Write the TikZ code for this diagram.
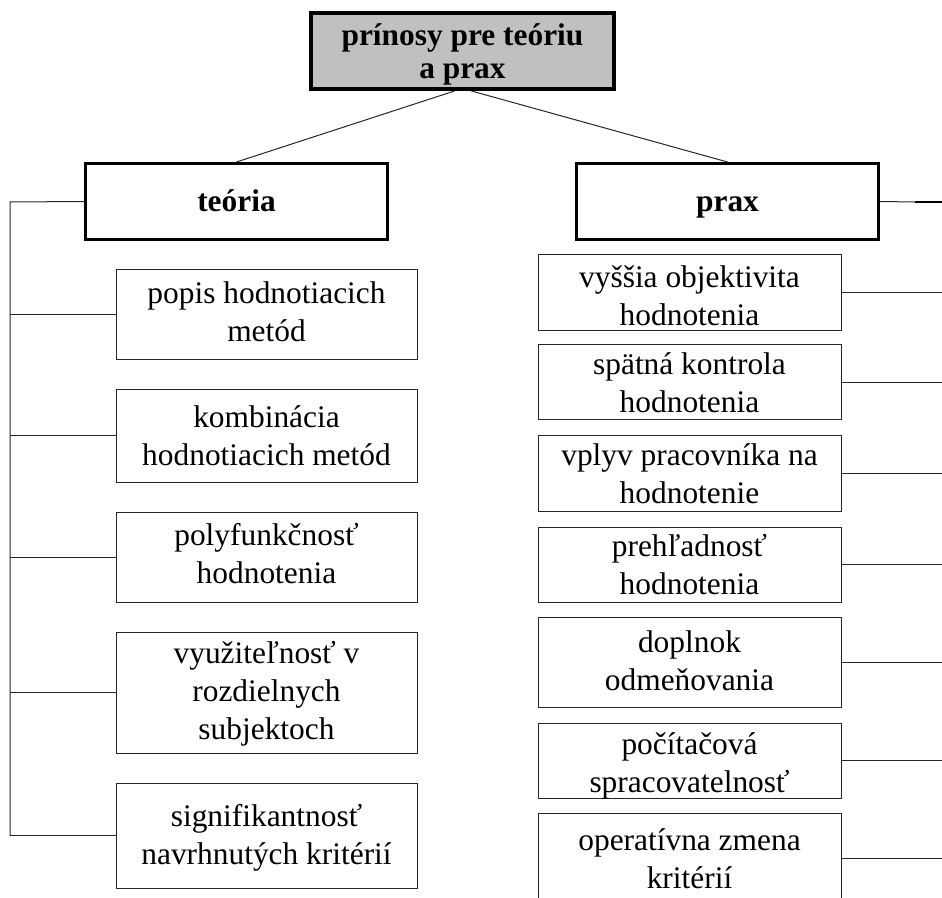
\documentclass[tikz,border=0pt]{standalone}
\usepackage{fontspec}
\setmainfont{Liberation Serif}
\begin{document}
\begin{tikzpicture}[x=0.5pt,y=-0.5pt,
  box/.style 2 args={draw=black!85, line width=0.5pt, minimum width=#1*0.5pt, minimum height=#2*0.5pt, inner sep=0pt},
  lab/.style={font=\fontsize{15.7}{19}\selectfont, align=center, inner sep=0pt, anchor=north},
  head/.style={font=\fontsize{15.7}{19}\selectfont\bfseries, align=center, inner sep=0pt, draw=black, line width=1.5pt, minimum width=151pt, minimum height=38pt, text height=13pt, text depth=2.5pt},
  conn/.style={draw=black!85, line width=0.5pt}
]
\useasboundingbox (0,0) rectangle (942,898);
\clip (0,0) rectangle (942,898);

% top
\node[draw=black, line width=2pt, fill={rgb,255:red,192;green,192;blue,192}, minimum width=151.5pt, minimum height=38pt, inner sep=0pt] (top) at (462.5,51) {};
\node[lab, font=\fontsize{15.7}{16.5}\selectfont\bfseries] (topt) at (462.5,21.9) {\strut prínosy pre teóriu\\\strut a prax};

% heads
\node[head] (teo) at (236.5,201.5) {teória};
\node[head] (prx) at (727.5,201.5) {prax};

\draw[conn] ([xshift=-4pt]top.south) -- (teo.north);
\draw[conn] ([xshift=4.5pt]top.south) -- (prx.north);

% left items
\node[box={301}{90}]  (l1) at (266.5,315) {};
\node[box={301}{92}]  (l2) at (266.5,436) {};
\node[box={301}{90}]  (l3) at (266.5,557) {};
\node[box={301}{121}] (l4) at (266.5,692.5) {};
\node[box={301}{105}] (l5) at (266.5,835.5) {};
\node[lab] (l1t) at (266.5,276.4) {\strut popis hodnotiacich\\\strut metód};
\node[lab] (l2t) at (266.5,400.4) {\strut kombinácia\\\strut hodnotiacich metód};
\node[lab] (l3t) at (266.5,518.4) {\strut polyfunkčnosť\\\strut hodnotenia};
\node[lab] (l4t) at (266.5,636.4) {\strut využiteľnosť v\\\strut rozdielnych\\\strut subjektoch};
\node[lab] (l5t) at (266.5,799.4) {\strut signifikantnosť\\\strut navrhnutých kritérií};

% right items
\node[box={303}{76}] (r1) at (689.5,293) {};
\node[box={303}{75}] (r2) at (689.5,382.5) {};
\node[box={303}{75}] (r3) at (689.5,473.5) {};
\node[box={303}{75}] (r4) at (689.5,564.5) {};
\node[box={303}{90}] (r5) at (689.5,662) {};
\node[box={303}{75}] (r6) at (689.5,760.5) {};
\node[box={303}{90}] (r7) at (689.5,858) {};
\node[lab] (r1t) at (689.5,260.4) {\strut vyššia objektivita\\\strut hodnotenia};
\node[lab] (r2t) at (689.5,347.4) {\strut spätná kontrola\\\strut hodnotenia};
\node[lab] (r3t) at (689.5,438.4) {\strut vplyv pracovníka na\\\strut hodnotenie};
\node[lab] (r4t) at (689.5,529.4) {\strut prehľadnosť\\\strut hodnotenia};
\node[lab] (r5t) at (689.5,625.4) {\strut doplnok\\\strut odmeňovania};
\node[lab] (r6t) at (689.5,727.4) {\strut počítačová\\\strut spracovatelnosť};
\node[lab] (r7t) at (689.5,823.4) {\strut operatívna zmena\\\strut kritérií};

% left bracket
\coordinate (lt) at (10,202);
\coordinate (lb) at (10,836);
\draw[conn] (teo.west) -- (lt) -- (lb);
\foreach \n in {l1,l2,l3,l4,l5} {
  \draw[conn] (\n.west) -- (\n.west -| lt);
}

% right side
\coordinate (re) at (942,0);
\coordinate (pm) at (915,202);
\draw[conn] (prx.east) -- (pm);
\draw[black, line width=1pt] (pm) -- (pm -| re);
\foreach \n in {r1,r2,r3,r4,r5,r6,r7} {
  \draw[conn] (\n.east) -- (\n.east -| re);
}
\end{tikzpicture}
\end{document}
